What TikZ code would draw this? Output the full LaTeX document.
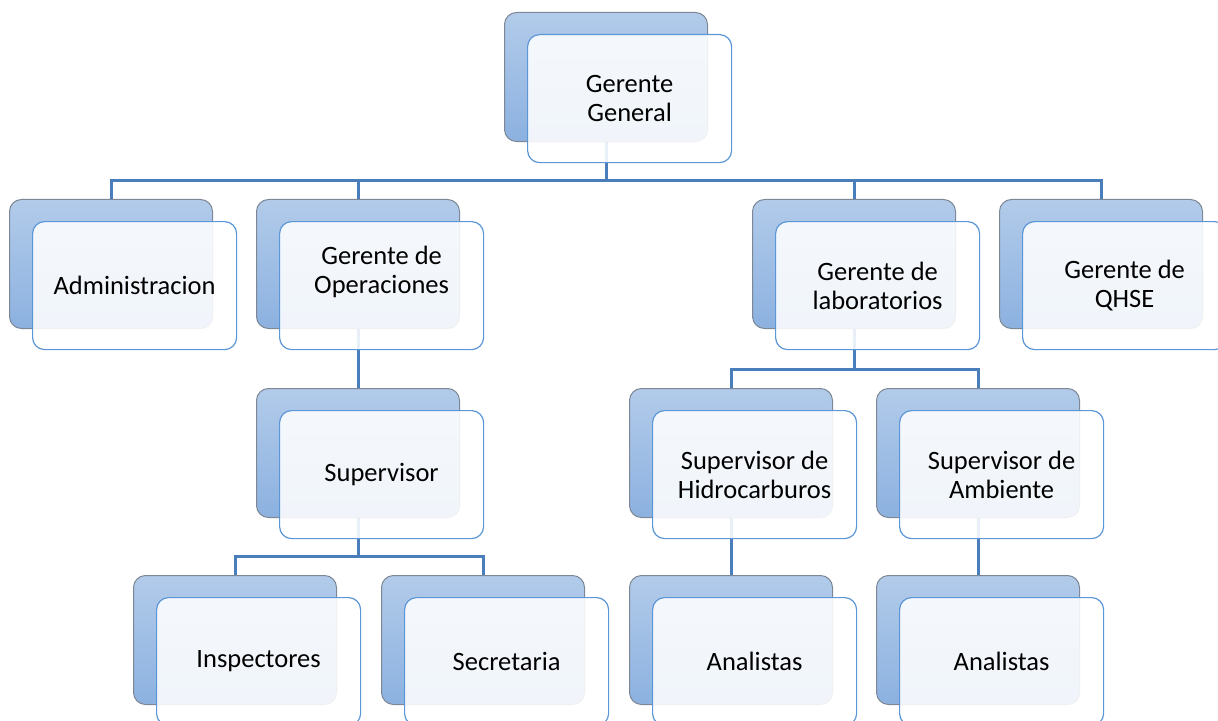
\documentclass[tikz,border=0pt]{standalone}
\usepackage{fontspec}
\setmainfont{Carlito}
\usetikzlibrary{calc}
\definecolor{connc}{RGB}{74,126,187}
\definecolor{frontc}{RGB}{91,150,214}
\definecolor{backtop}{RGB}{178,203,234}
\definecolor{backbot}{RGB}{140,177,224}
\definecolor{backedge}{RGB}{125,135,150}
\tikzset{
  backbox/.style={rectangle, rounded corners=12bp, minimum width=203bp, minimum height=129bp,
    anchor=north west, inner sep=0pt, top color=backtop, bottom color=backbot, draw=backedge, line width=1bp},
  frontbox/.style={rectangle, rounded corners=12bp, minimum width=204bp, minimum height=128bp,
    anchor=north west, inner sep=0pt, fill=white, fill opacity=0.88,
    draw=frontc, line width=1.2bp},
  lbl/.style={align=center, inner sep=0pt, font=\fontsize{26.5bp}{29bp}\selectfont},
  conn/.style={draw=connc, line width=3bp}
}
\newcommand{\orgbox}[3]{%
  \node[backbox] (#1) at (#2,#3) {};
}
\newcommand{\orgfront}[5][0]{%
  \node[frontbox] (#2-f) at (#3+23,#4+22) {};
  \node[lbl] (#2-t) at ($(#2-f.center)+(0,#1)$) {#5};
}
\begin{document}
\begin{tikzpicture}[x=1bp,y=-1bp]
\useasboundingbox (0,0) rectangle (1218,721);
\clip (0,0) rectangle (1218,721);
% back boxes
\orgbox{gg}{504}{12}
\orgbox{adm}{9}{199}
\orgbox{ops}{256}{199}
\orgbox{lab}{752}{199}
\orgbox{qhse}{999}{199}
\orgbox{sup}{256}{388}
\orgbox{hid}{629}{388}
\orgbox{amb}{876}{388}
\orgbox{ins}{133}{575}
\orgbox{sec}{381}{575}
\orgbox{ana}{629}{575}
\orgbox{anb}{876}{575}
% connectors
\coordinate (b1) at (0,181);
\coordinate (b2) at (0,369);
\coordinate (b3) at (0,556);
\draw[conn] (adm.north) |- (qhse.north |- b1) -- (qhse.north);
\draw[conn] (gg.south) -- (gg.south |- b1);
\draw[conn] (ops.north) -- (ops.north |- b1);
\draw[conn] (lab.north) -- (lab.north |- b1);
\draw[conn] (ops.south) -- (sup.north);
\draw[conn] (lab.south) -- (lab.south |- b2);
\draw[conn] (hid.north) |- (amb.north |- b2) -- (amb.north);
\draw[conn] (sup.south) -- (sup.south |- b3);
\draw[conn] (ins.north) |- (sec.north |- b3) -- (sec.north);
\draw[conn] (hid.south) -- (ana.north);
\draw[conn] (amb.south) -- (anb.north);
% front boxes
\orgfront{gg}{504}{12}{Gerente\\General}
\orgfront{adm}{9}{199}{Administracion}
\orgfront[-14]{ops}{256}{199}{Gerente de\\Operaciones}
\orgfront{lab}{752}{199}{Gerente de\\laboratorios}
\orgfront{qhse}{999}{199}{Gerente de\\QHSE}
\orgfront{sup}{256}{388}{Supervisor}
\orgfront{hid}{629}{388}{Supervisor de\\Hidrocarburos}
\orgfront{amb}{876}{388}{Supervisor de\\Ambiente}
\orgfront{ins}{133}{575}{Inspectores}
\orgfront{sec}{381}{575}{Secretaria}
\orgfront{ana}{629}{575}{Analistas}
\orgfront{anb}{876}{575}{Analistas}
\end{tikzpicture}
\end{document}
